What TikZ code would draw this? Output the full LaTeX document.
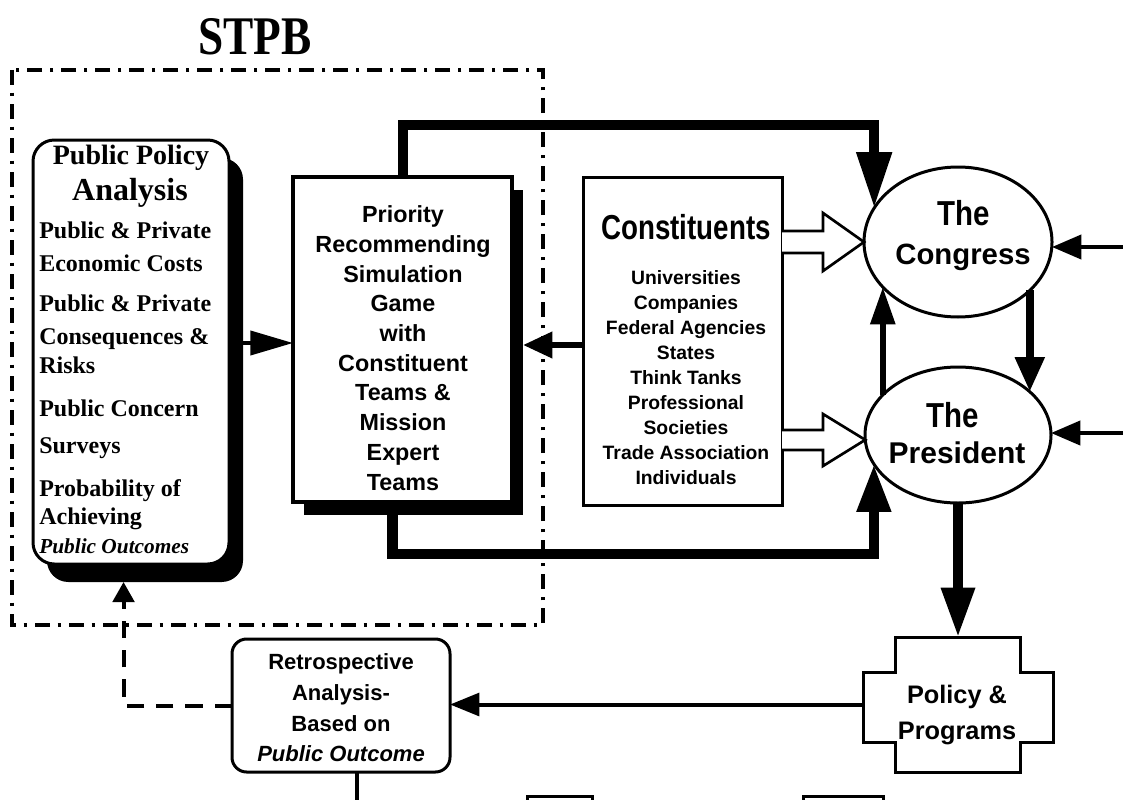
\documentclass[tikz,border=0pt]{standalone}
\usepackage{fontspec}
\setmainfont{Liberation Serif}
\newfontfamily\hv{Liberation Sans}
\usetikzlibrary{arrows.meta,shapes.geometric,backgrounds}
\newcommand{\fsz}[2]{\fontsize{#1pt}{#2pt}\selectfont}
\begin{document}
\begin{tikzpicture}[x=0.75pt,y=-0.75pt,line join=miter]
\tikzset{
  stpbframe/.style={line width=3pt, dash pattern=on 11pt off 6pt on 2.5pt off 6pt},
  sbox/.style={draw, line width=2.25pt, fill=white, inner sep=0pt, outer sep=0pt},
  ovalnode/.style={draw, ellipse, line width=2.25pt, fill=white, inner sep=0pt, outer sep=0pt},
  hollowarrow/.style={draw, line width=2pt, fill=white, line join=miter},
  serifline/.style={anchor=west, inner sep=0pt, text height=13pt, text depth=4pt, font=\bfseries\fsz{18}{20}},
  sanstext/.style={inner sep=0pt, align=center, font=\hv\bfseries},
  conn/.style={line width=#1},
}
\useasboundingbox (0,0) rectangle (1123,799);

% STPB frame and title
\draw[stpbframe] (12,70) rectangle (543,625);
\node[inner sep=0pt] (title) at (255,37) {\fsz{34}{34}\bfseries\scalebox{1}[1.2]{STPB}};

% boxes
\node[sbox, rounded corners=16pt, minimum width=147pt, minimum height=318pt] (leftbox) at (131,352) {};
\node[sbox, line width=3pt, minimum width=164.25pt, minimum height=243.75pt] (prio) at (402.5,339.5) {};
\node[sbox, minimum width=149.25pt, minimum height=246pt] (const) at (682.5,341) {};
\node[ovalnode, minimum width=141pt, minimum height=112.5pt] (congress) at (958,242) {};
\node[ovalnode, minimum width=139.5pt, minimum height=102pt] (president) at (958,435) {};
\node[sbox, rounded corners=11pt, minimum width=163.5pt, minimum height=99.75pt] (retro) at (341,705.5) {};
\node[inner sep=0pt, outer sep=0pt, minimum width=142.5pt, minimum height=101.25pt] (policy) at (958,704.5) {};
\draw[line width=2.25pt, fill=white] (895,637) -- (1020,637) -- (1020,672) -- (1053,672) -- (1053,742)
  -- (1020,742) -- (1020,772) -- (895,772) -- (895,742) -- (863,742) -- (863,672) -- (895,672) -- cycle;

% shadows
\begin{scope}[on background layer]
  \fill[rounded corners=16pt] ([xshift=10.5pt,yshift=-13.5pt]leftbox.north west) rectangle ([xshift=10.5pt,yshift=-13.5pt]leftbox.south east);
  \fill ([xshift=8.25pt,yshift=-9.75pt]prio.north west) rectangle ([xshift=8.25pt,yshift=-9.75pt]prio.south east);
\end{scope}

% left box text
\node[inner sep=0pt, font=\bfseries\fsz{21}{21}] (lbh1) at (131,158) {Public Policy};
\node[inner sep=0pt, font=\bfseries\fsz{24}{24}] (lbh2) at (130,193) {Analysis};
\foreach \yy/\ltext [count=\i] in {232/Public \& Private, 265/Economic Costs, 305/Public \& Private,
  338/Consequences \&, 367/Risks, 410/Public Concern, 447/Surveys, 490/Probability of, 518/Achieving}
  \node[serifline] (lb\i) at (39,\yy) {\ltext};
\node[serifline, font=\bfseries\itshape\fsz{16}{18}] (lbit) at (39,547) {Public Outcomes};

% middle box text
\node[sanstext, font=\hv\bfseries\fsz{17.5}{22.3}] (priotext) at (403,348)
  {Priority\\Recommending\\Simulation\\Game\\with\\Constituent\\Teams \&\\Mission\\Expert\\Teams};

% constituents text
\node[sanstext] (consthead) at (686,227) {\fsz{26}{26}\scalebox{0.8}[1]{Constituents}};
\node[sanstext, font=\hv\bfseries\fsz{14.5}{18.75}] (constlist) at (686,378)
  {Universities\\Companies\\Federal Agencies\\States\\Think Tanks\\Professional\\Societies\\Trade Association\\Individuals};

% ellipse texts
\node[sanstext] (congthe) at (964,213) {\fsz{26}{26}\scalebox{0.85}[1]{The}};
\node[sanstext, font=\hv\bfseries\fsz{22}{22}] (congname) at (963,257) {Congress};
\node[sanstext] (presthe) at (953,415) {\fsz{26}{26}\scalebox{0.85}[1]{The}};
\node[sanstext, font=\hv\bfseries\fsz{22.5}{22.5}] (presname) at (957,453) {President};

% retro and policy text
\node[sanstext, font=\hv\bfseries\fsz{16.5}{23}] (retrotext) at (341,708)
  {Retrospective\\Analysis-\\Based on\\\textit{Public Outcome}};
\node[sanstext, font=\hv\bfseries\fsz{19}{27}] (policytext) at (957,715) {Policy \&\\Programs};

% helper coordinates
\coordinate (prioShadowE) at ([xshift=8.25pt]prio.east);
\coordinate (prioB) at ([xshift=-7.5pt]prio.south);
\coordinate (leftShadowS) at ([xshift=-5.6pt,yshift=-13.5pt]leftbox.south);
\coordinate (retroB) at ([xshift=12pt]retro.south);
\coordinate (inC) at (1140,247);
\coordinate (inP) at (1140,433);
\coordinate (retroOut) at (357,830);

% connectors
\draw[conn=3pt, -{Triangle[length=32pt,width=18pt]}] (leftbox.east |- 0,343) -- (prio.west |- 0,343);
\draw[conn=4.5pt, -{Triangle[length=22pt,width=19pt]}] (const.west |- 0,345) -- (prioShadowE |- 0,345);
\draw[conn=7.5pt, -{Triangle[length=42pt,width=25pt]}] (prio.north) -- (prio.north |- 0,125) -| (congress.158);
\draw[conn=8pt, -{Triangle[length=36pt,width=24pt]}] (prioB) -- (prioB |- 0,554) -| (president.199);
\draw[conn=6pt, -{Triangle[length=26pt,width=21pt]}] (congress.326) -- (congress.326 |- president.31);
\draw[conn=4.5pt, -{Triangle[length=28pt,width=18pt]}] (president.152) -- (president.152 |- congress.211);
\draw[conn=3pt, -{Triangle[length=22pt,width=18pt]}] (inC) -- (congress.east |- inC);
\draw[conn=3pt, -{Triangle[length=22pt,width=18pt]}] (inP) -- (president.east |- inP);
\draw[conn=7pt, -{Triangle[length=37pt,width=24pt]}] (president.south) -- (policy.north);
\draw[conn=3pt, -{Triangle[length=22pt,width=17pt]}] (policy.west) -- (policy.west -| retro.east);
\draw[conn=3pt, dash pattern=on 13pt off 9pt, -{Triangle[length=15pt,width=16pt]}] (retro.west) -| (leftShadowS);
\draw[conn=3pt] (retroB) -- (retroOut);

% hollow arrows from constituents
\draw[hollowarrow] (const.east |- 0,231) -- (823,231) -- (823,213) -- (congress.west) -- (823,271) -- (823,253) -- (const.east |- 0,253);
\draw[hollowarrow] (const.east |- 0,430) -- (823,430) -- (823,414) -- (president.183) -- (823,466) -- (823,450) -- (const.east |- 0,450);

% cut-off shapes at the bottom edge
\draw[line width=2.25pt] (527,796) rectangle (592,840);
\draw[line width=2.25pt] (803,796) rectangle (883,840);
\end{tikzpicture}
\end{document}
